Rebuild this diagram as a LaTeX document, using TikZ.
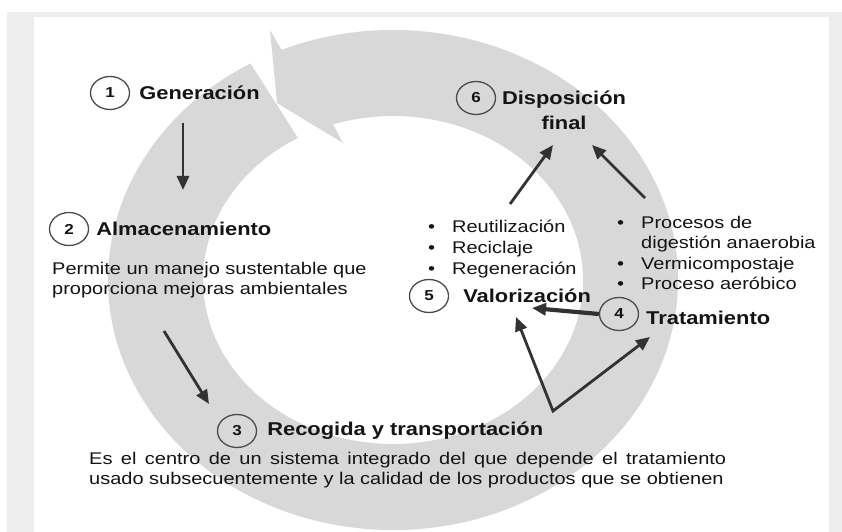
\documentclass[tikz,border=0pt]{standalone}
\usepackage{fontspec}
\setmainfont{Liberation Sans}[FakeStretch=1.18]
\usepackage{tikz}
\usetikzlibrary{shapes.geometric, positioning, arrows.meta}
\definecolor{RingGray}{RGB}{216,216,216}
\definecolor{FrameGray}{RGB}{238,237,238}
\definecolor{ArrowGray}{RGB}{50,50,50}
\definecolor{CircleGray}{RGB}{75,75,75}
\definecolor{InkBlack}{RGB}{20,20,20}

\begin{document}
\begin{tikzpicture}[x=1bp, y=-1bp,
      numc/.style={ellipse, draw=CircleGray, line width=1.3bp, minimum width=39bp,
                   minimum height=33bp, inner sep=0pt, text=InkBlack,
                   font=\fontsize{14.5}{16}\selectfont\bfseries},
      ttl/.style={anchor=west, inner sep=0pt, text=InkBlack,
                  font=\fontsize{18.6}{25}\selectfont\bfseries},
      txt/.style={anchor=west, inner sep=0pt, align=left, text=InkBlack,
                  font=\fontsize{17}{20.5}\selectfont},
      arr/.style={-{Triangle[length=14bp, width=12bp]}, draw=ArrowGray, line width=2.8bp},
      bigarr/.style={arr, line width=4.2bp},
      twoarr/.style={arr, {Triangle[length=14bp, width=12bp]}-{Triangle[length=14bp, width=12bp]}}
    ]
    \useasboundingbox (0,0) rectangle (842,532);
    \fill[white] (0,0) rectangle (842,532);
    \fill[FrameGray] (7,12) rectangle (842,532);
    \fill[white] (34,17) rectangle (829,532);

    % circular arrow
    \fill[RingGray] ([shift={(393,280)}]240:285 and 250)
      arc[start angle=240, end angle=-113, x radius=285, y radius=250]
      -- (270,30) -- (277,103) -- (343,143)
      -- ([shift={(393,280)}]-108.4:190 and 164)
      arc[start angle=-108.4, end angle=240, x radius=190, y radius=164]
      -- cycle;

    \node[numc] (n1) at (110,93)  {1};
    \node[numc] (n2) at (69,229)  {2};
    \node[numc] (n3) at (237,431) {3};
    \node[numc] (n4) at (619,314) {4};
    \node[numc] (n5) at (429,296) {5};
    \node[numc] (n6) at (476,98)  {6};

    \node[ttl, right=9bp of n1]  (t1) {Generación};
    \node[ttl, right=7bp of n2]  (t2) {Almacenamiento};
    \node[ttl, right=10bp of n3] (t3) {Recogida y transportación};
    \node[ttl] (t4) at (646,318) {Tratamiento};
    \node[ttl, right=14bp of n5] (t5) {Valorización};
    \node[ttl, anchor=center, align=center] (t6) at (564,110) {Disposición\\final};

    \node[txt] (d2) at (52,280)
          {Permite un manejo sustentable que\\proporciona mejoras ambientales};
    \node[txt] (d3) at (89,470)
          {\makebox[637bp][s]{Es el centro de un sistema integrado del que depende el tratamiento}\\
           usado subsecuentemente y la calidad de los productos que se obtienen};
    \node[txt, font=\fontsize{17}{21.5}\selectfont] (b5) at (428,249)
          {\makebox[24bp][l]{\textbullet}Reutilización\\
           \makebox[24bp][l]{\textbullet}Reciclaje\\
           \makebox[24bp][l]{\textbullet}Regeneración};
    \node[txt] (b4) at (617,253)
          {\makebox[24bp][l]{\textbullet}Procesos de\\
           \hspace*{24bp}digestión anaerobia\\
           \makebox[24bp][l]{\textbullet}Vermicompostaje\\
           \makebox[24bp][l]{\textbullet}Proceso aeróbico};

    \coordinate (genout) at (183,123);
    \coordinate (almin)  at (183,190);
    \coordinate (almout) at (164,331);
    \coordinate (recin)  at (209,404);
    \coordinate (vapex)  at (553,411);
    \coordinate (valin)  at (516,317);
    \coordinate (train)  at (650,337);
    \coordinate (valtip) at (532,308);
    \coordinate (reuout) at (510,204);
    \coordinate (displ)  at (553,145);
    \coordinate (proout) at (645,198);
    \coordinate (dispr)  at (592,145);

    \draw[arr] (genout) -- (almin);
    \draw[arr] (almout) -- (recin);
    \draw[twoarr] (valin) -- (vapex) -- (train);
    \draw[bigarr] (n4.west) -- (valtip);
    \draw[arr] (reuout) -- (displ);
    \draw[arr] (proout) -- (dispr);
  \end{tikzpicture}
\end{document}
